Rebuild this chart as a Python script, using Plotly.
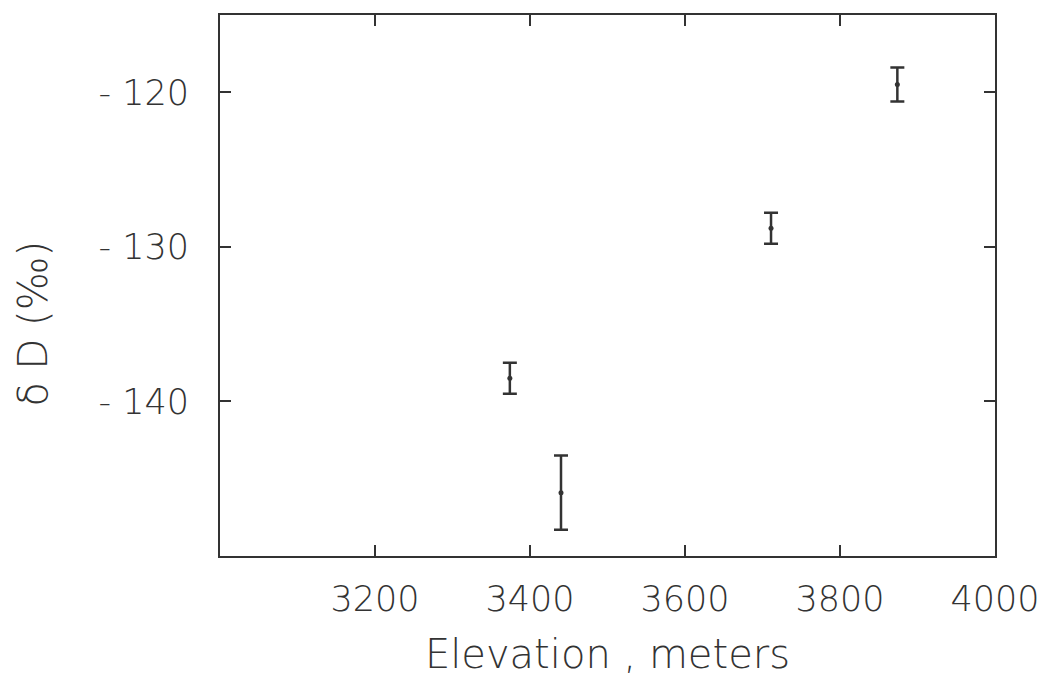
import plotly.graph_objects as go

elevation = [3374, 3440, 3711, 3874]
delta_d = [-138.5, -145.9, -128.8, -119.5]
err = [1.0, 2.4, 1.0, 1.1]

x_ticks = [3200, 3400, 3600, 3800, 4000]
y_ticks = [-120, -130, -140]

ink = "#333333"
font_fam = "DejaVu Sans"

fig = go.Figure()
fig.add_trace(go.Scatter(
    x=elevation, y=delta_d, mode="markers",
    marker=dict(size=5, color=ink),
    error_y=dict(type="data", array=err, visible=True, color=ink, thickness=2.5, width=7),
    showlegend=False,
))

fig.update_layout(
    width=1056, height=698,
    margin=dict(l=220, r=61, t=15, b=142),
    paper_bgcolor="white", plot_bgcolor="white",
    font=dict(family=font_fam, color=ink, weight=300),
    xaxis=dict(
        range=[3000, 4000], tickvals=x_ticks, ticktext=[str(v) for v in x_ticks],
        ticks="inside", ticklen=11, tickwidth=2, tickcolor=ink,
        showline=True, linewidth=2, linecolor=ink, mirror="ticks",
        showgrid=False, zeroline=False,
        tickfont=dict(size=35, family=font_fam, color=ink, weight=300),
        ticklabelstandoff=11,
        title=dict(text="Elevation , meters", font=dict(size=40, family=font_fam, color=ink, weight=300), standoff=22),
    ),
    yaxis=dict(
        range=[-150, -115], tickvals=y_ticks, ticktext=["- 120", "- 130", "- 140"],
        ticks="inside", ticklen=11, tickwidth=2, tickcolor=ink,
        showline=True, linewidth=2, linecolor=ink, mirror="ticks",
        showgrid=False, zeroline=False,
        tickfont=dict(size=35, family=font_fam, color=ink, weight=300),
        ticklabelstandoff=22,
    ),
    annotations=[dict(
        text="δ D (‰)", textangle=-90, xref="paper", yref="paper",
        x=-0.241, y=0.43, xanchor="center", yanchor="middle", showarrow=False,
        font=dict(size=40, family=font_fam, color=ink, weight=300),
    )],
)

fig.write_html("out.html")
